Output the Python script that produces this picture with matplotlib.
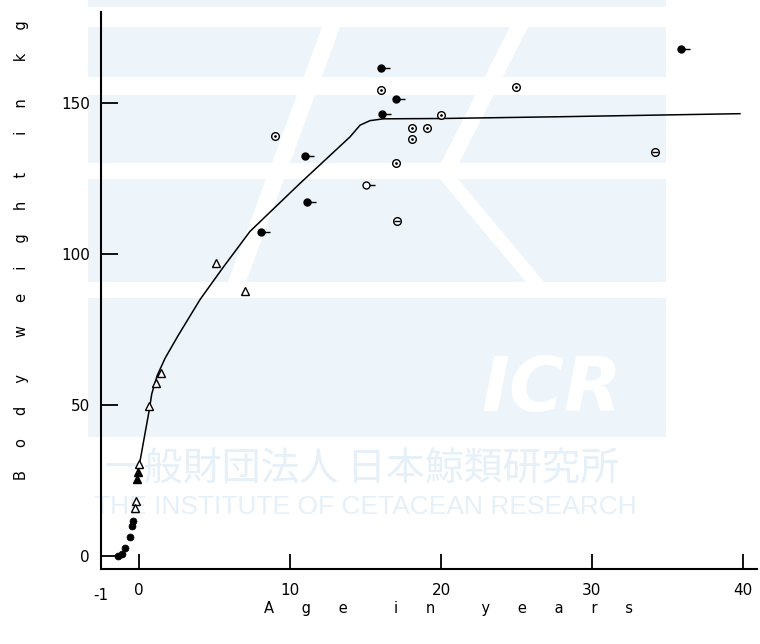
import numpy as np
import matplotlib
matplotlib.use("Agg")
import matplotlib.pyplot as plt
from matplotlib.path import Path
from matplotlib.patches import Rectangle, Polygon

# ---------------- data ----------------
# adults, solid circle with tail
adult_solid_age = [16.0, 17.0, 16.1, 11.0, 11.1, 8.1, 35.9]
adult_solid_wt = [161.7, 151.4, 146.4, 132.7, 117.3, 107.4, 168.0]
# circle with centre dot
dotted_age = [16.0, 20.0, 18.1, 19.1, 18.1, 9.0, 17.0, 25.0]
dotted_wt = [154.5, 146.1, 141.7, 141.7, 138.3, 139.3, 130.1, 155.5]
# open circle with tail
open_tail_age = [15.0]
open_tail_wt = [123.1]
# circle with bar
barred_age = [17.1, 34.2]
barred_wt = [110.9, 133.9]
# open triangles
tri_open_age = [5.1, 7.0, 1.45, 1.15, 0.68, 0.02, -0.2, -0.26]
tri_open_wt = [97.2, 88.0, 60.5, 57.4, 49.8, 30.5, 18.3, 16.0]
# solid triangles
tri_solid_age = [-0.05, -0.15]
tri_solid_wt = [27.7, 25.6]
# foetuses, solid circles
foetus_age = [-0.38, -0.44, -0.6, -0.93, -1.15, -1.37]
foetus_wt = [11.6, 10.0, 6.3, 2.6, 0.8, 0.0]
# fitted growth curve
curve_age = [0.07, 0.68, 0.84, 1.2, 1.72, 2.58, 4.04, 5.56, 7.35, 10.66,
             13.97, 14.64, 15.3, 16.2, 20.0, 28.0, 39.8]
curve_wt = [31.6, 48.5, 53.7, 59.8, 65.5, 73.0, 85.0, 95.6, 107.6, 123.5,
            138.9, 142.8, 144.3, 144.9, 145.0, 145.6, 146.6]

x_ticks = [0, 10, 20, 30, 40]
x_tick_labels = ["0", "10", "20", "30", "40"]
y_ticks = [0, 50, 100, 150]
y_tick_labels = ["0", "50", "100", "150"]
x_origin_label = "-1"
x_label = "Age in years"
y_label = "Body weight in kg"
wm_jp = "一般財団法人 日本鯨類研究所"
wm_en = "THE INSTITUTE OF CETACEAN RESEARCH"
wm_logo = "ICR"

# ---------------- figure ----------------
W, H = 760, 644
fig = plt.figure(figsize=(W / 100, H / 100), dpi=100)
fig.patch.set_facecolor("white")


def fx(px):
    return px / W


def fy(py):
    return 1 - py / H


# watermark (very faint, behind everything)
WM = "#edf5fb"
for top, bot in [(0, 7), (27, 77), (95, 163), (179, 282), (298, 437)]:
    fig.add_artist(Rectangle((fx(88), fy(bot)), fx(666) - fx(88), fy(top) - fy(bot),
                             transform=fig.transFigure, fc=WM, ec="none", zorder=-5))
for poly in [
    [(322, 27), (340, 27), (246, 282), (228, 282)],
    [(510, 27), (528, 27), (459, 163), (441, 163)],
    [(440, 179), (458, 179), (544, 282), (526, 282)],
]:
    fig.add_artist(Polygon([(fx(a), fy(b)) for a, b in poly], closed=True,
                           transform=fig.transFigure, fc="white", ec="none", zorder=-4))
fig.text(fx(552), fy(390), wm_logo, fontsize=54, fontweight="bold", style="italic",
         color="white", ha="center", va="center", zorder=-3)
fig.text(fx(362), fy(470), wm_jp, fontsize=28, family=["Noto Sans CJK JP", "DejaVu Sans"],
         color="#e6f0f8", ha="center", va="center", zorder=-3)
fig.text(fx(365), fy(507), wm_en, fontsize=19,
         family=["Liberation Sans Narrow", "Liberation Sans", "DejaVu Sans"],
         color="#e6f0f8", ha="center", va="center", zorder=-3)

ax = fig.add_axes([fx(101), fy(569), fx(757) - fx(101), fy(12) - fy(569)])
ax.set_facecolor("none")

# markers
circ = Path.unit_circle()
tail = Path([(1.0, 0.0), (2.6, 0.0)], [Path.MOVETO, Path.LINETO])
flag_marker = Path.make_compound_path(circ, tail)

ax.plot(curve_age, curve_wt, color="black", lw=1.1, zorder=2)

ax.plot(adult_solid_age, adult_solid_wt, ls="none", marker=flag_marker, ms=13,
        mfc="black", mec="black", mew=1.0, zorder=3)
ax.plot(open_tail_age, open_tail_wt, ls="none", marker=flag_marker, ms=13,
        mfc="white", mec="black", mew=1.0, zorder=3)
ax.plot(dotted_age, dotted_wt, ls="none", marker="o", ms=5.5,
        mfc="white", mec="black", mew=1.0, zorder=3)
ax.plot(dotted_age, dotted_wt, ls="none", marker="o", ms=1.4,
        mfc="black", mec="black", mew=0.5, zorder=4)
ax.plot(barred_age, barred_wt, ls="none", marker="o", ms=5.5,
        mfc="white", mec="black", mew=1.0, zorder=3)
ax.plot(barred_age, barred_wt, ls="none", marker="_", ms=4,
        mec="black", mew=1.0, zorder=4)
ax.plot(tri_open_age, tri_open_wt, ls="none", marker="^", ms=5.5,
        mfc="white", mec="black", mew=1.0, zorder=3)
ax.plot(tri_solid_age, tri_solid_wt, ls="none", marker="^", ms=5.5,
        mfc="black", mec="black", mew=1.0, zorder=3)
ax.plot(foetus_age, foetus_wt, ls="none", marker="o", ms=5,
        mfc="black", mec="black", mew=0.5, zorder=3)

# axes styling
ax.set_xlim(-2.52, 40.93)
ax.set_ylim(-4.3, 180.3)
for s in ["top", "right"]:
    ax.spines[s].set_visible(False)
for s in ["left", "bottom"]:
    ax.spines[s].set_linewidth(1.5)
ax.set_xticks(x_ticks)
ax.set_xticklabels(x_tick_labels)
ax.set_yticks(y_ticks)
ax.set_yticklabels(y_tick_labels)
ax.tick_params(axis="x", direction="in", length=11, width=1.3, pad=10, labelsize=11)
ax.tick_params(axis="y", direction="in", length=12, width=1.3, pad=8, labelsize=11)
# the "-1" label sits under the axis origin in the original drawing
ax.text(0.0, -0.034, x_origin_label, transform=ax.transAxes, ha="center", va="top",
        fontsize=11)


def spaced(text, inner, outer):
    return (" " * outer).join((" " * inner).join(w) for w in text.split())


fig.text(fx(22), fy(250), spaced(y_label, 5, 8), rotation=90, ha="center", va="center",
         fontsize=10.5)
fig.text(fx(449), fy(608), spaced(x_label, 6, 10), ha="center", va="center", fontsize=10.5)

fig.savefig("out.png", dpi=100)
